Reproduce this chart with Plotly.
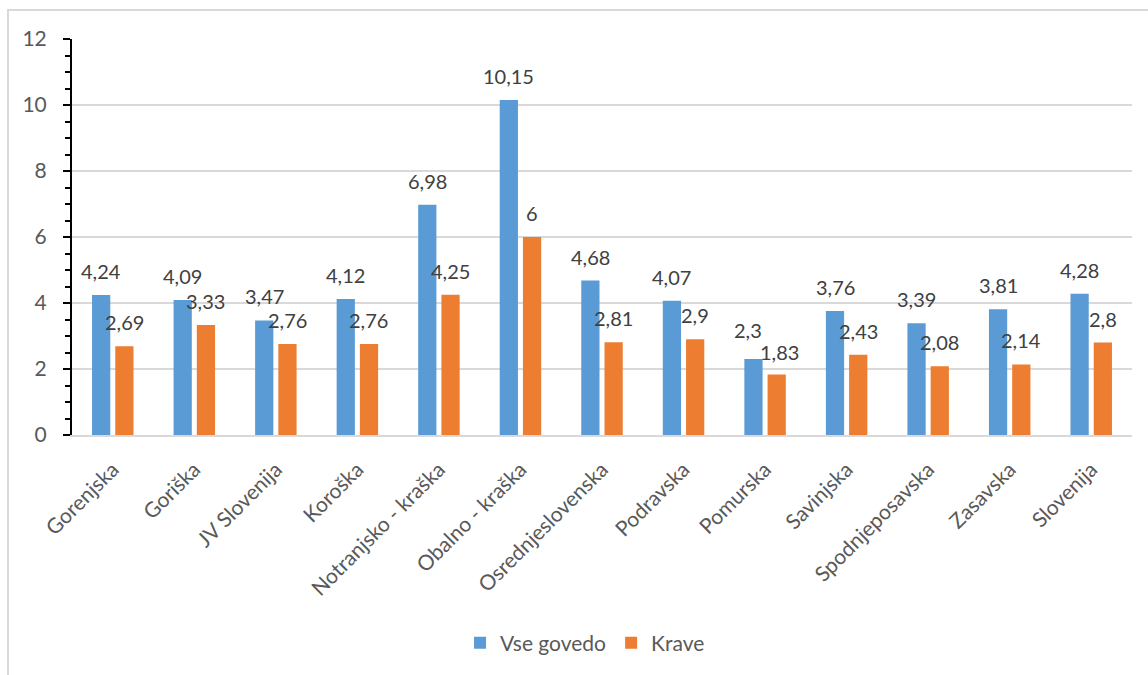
import plotly.graph_objects as go

categories = ["Gorenjska", "Goriška", "JV Slovenija", "Koroška", "Notranjsko - kraška",
              "Obalno - kraška", "Osrednjeslovenska", "Podravska", "Pomurska", "Savinjska",
              "Spodnjeposavska", "Zasavska", "Slovenija"]
vse_govedo = [4.24, 4.09, 3.47, 4.12, 6.98, 10.15, 4.68, 4.07, 2.3, 3.76, 3.39, 3.81, 4.28]
krave = [2.69, 3.33, 2.76, 2.76, 4.25, 6, 2.81, 2.9, 1.83, 2.43, 2.08, 2.14, 2.8]
y_ticks = [0, 2, 4, 6, 8, 10, 12]

W, H = 1148, 675
L, R, T, B = 72, 16, 39, 240
FONT = "Lato"

fig = go.Figure()
fig.add_trace(go.Bar(name="Vse govedo", x=categories, y=vse_govedo, marker_color="#5B9BD5",
                     marker_line_width=0))
fig.add_trace(go.Bar(name="Krave", x=categories, y=krave, marker_color="#ED7D31",
                     marker_line_width=0))

plot_w = W - L - R
cat_w = plot_w / len(categories)
bargap = 0.43
slot = (1 - bargap) * cat_w / 2

def fmt(v):
    return ("%g" % v).replace(".", ",")

# small nudges to keep crowded labels apart (series index, category) -> (dx, dy)
nudge = {(0, "Pomurska"): (-5, 5), (1, "Pomurska"): (3, -1)}

for si, (series, sign) in enumerate(((vse_govedo, -1), (krave, 1))):
    for c, v in zip(categories, series):
        dx, dy = nudge.get((si, c), (0, 0))
        fig.add_annotation(x=c, y=v, text=fmt(v), showarrow=False, xref="x", yref="y",
                           xshift=sign * slot / 2 + dx, yshift=24 + dy, yanchor="middle",
                           font=dict(family=FONT, size=20, color="#404040"))

plot_h = H - T - B
def px_x(p):
    return (p - L) / plot_w
def px_y(p):
    return (H - B - p) / plot_h

fig.add_shape(type="rect", xref="paper", yref="paper",
              x0=px_x(8), x1=px_x(W + 20), y0=px_y(H + 20), y1=px_y(10),
              line=dict(color="#D9D9D9", width=2), fillcolor="rgba(0,0,0,0)", layer="below")

fig.update_layout(
    width=W, height=H,
    margin=dict(l=L, r=R, t=T, b=B, autoexpand=False),
    paper_bgcolor="white", plot_bgcolor="white",
    barmode="group", bargap=bargap, bargroupgap=0.215,
    font=dict(family=FONT, color="#595959", size=20),
    legend=dict(orientation="h", x=0.484, xanchor="center", y=px_y(643), yanchor="middle",
                font=dict(family=FONT, size=21, color="#595959"), itemwidth=30,
                traceorder="normal"),
    xaxis=dict(tickangle=-45, showline=True, linecolor="#D9D9D9", linewidth=2,
               ticks="", ticklabelstandoff=12, tickfont=dict(size=21, color="#595959"),
               showgrid=False),
    yaxis=dict(range=[0, 12], tickvals=y_ticks, showline=True, linecolor="black", linewidth=2,
               ticks="outside", ticklen=7, tickwidth=2, tickcolor="black",
               minor=dict(dtick=0.5, ticks="outside", ticklen=5, tickwidth=2, tickcolor="black",
                          showgrid=False),
               showgrid=True, gridcolor="#D9D9D9", gridwidth=2, zeroline=False,
               ticklabelstandoff=12, tickfont=dict(size=21, color="#595959")),
)

fig.write_html("out.html")
